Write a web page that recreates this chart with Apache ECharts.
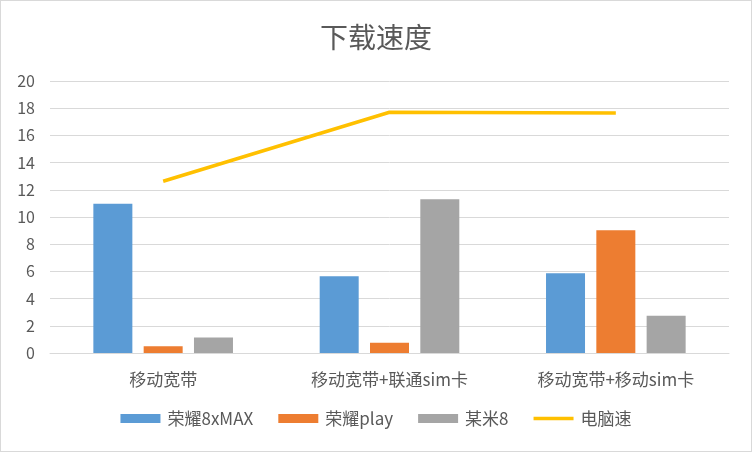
<!DOCTYPE html>
<html>
<head>
<meta charset="utf-8">
<script src="https://cdn.jsdelivr.net/npm/echarts@6/dist/echarts.min.js"></script>
<style>
    html, body { margin: 0; padding: 0; background: #fff; }
    #chart { width: 752px; height: 452px; box-sizing: border-box; border: 1px solid #d9d9d9; }
</style>
</head>
<body>
<div id="chart"></div>
<script>
const categories = ['移动宽带', '移动宽带+联通sim卡', '移动宽带+移动sim卡']
const honor8xMax = [10.97, 5.65, 5.87]
const honorPlay = [0.49, 0.75, 9.02]
const mi8 = [1.14, 11.3, 2.73]
const lineValues = [12.63, 17.7, 17.65]
const seriesNames = ['荣耀8xMAX', '荣耀play', '某米8', '电脑速']
const yTicks = [0, 20, 2]

const font = 'Noto Sans CJK SC'
const textColor = '#595959'

const chart = echarts.init(document.getElementById('chart'))

const barSeries = (name, data, color) => ({
    name: name,
    type: 'bar',
    data: data,
    barWidth: 39,
    barGap: '29%',
    itemStyle: { color: color },
    emphasis: { disabled: true }
})

const option = {
    animation: false,
    textStyle: { fontFamily: font },
    title: {
        text: '下载速度',
        left: 'center',
        top: 17,
        textStyle: { fontFamily: font, fontSize: 28, fontWeight: 'normal', color: textColor }
    },
    grid: { left: 49, right: 22, top: 80, bottom: 98 },
    legend: {
        bottom: 19,
        left: 'center',
        itemWidth: 40,
        itemHeight: 9,
        itemGap: 25,
        textStyle: { fontFamily: font, fontSize: 17, color: textColor, padding: [0, 0, 0, 2] },
        data: [
            { name: seriesNames[0], icon: 'rect' },
            { name: seriesNames[1], icon: 'rect' },
            { name: seriesNames[2], icon: 'rect' },
            // plain line icon, no dot
            { name: seriesNames[3], icon: 'path://M0,0 L40,0 L40,3.5 L0,3.5 Z' }
        ]
    },
    xAxis: {
        type: 'category',
        data: categories,
        axisLine: { lineStyle: { color: '#d9d9d9', width: 1 } },
        axisTick: { show: false },
        axisLabel: { fontFamily: font, fontSize: 17, color: textColor, margin: 18 }
    },
    yAxis: {
        type: 'value',
        min: yTicks[0],
        max: yTicks[1],
        interval: yTicks[2],
        axisLine: { show: false },
        axisTick: { show: false },
        splitLine: { lineStyle: { color: '#d9d9d9', width: 1 } },
        axisLabel: { fontFamily: font, fontSize: 16, color: textColor, margin: 15 }
    },
    series: [
        barSeries(seriesNames[0], honor8xMax, '#5b9bd5'),
        barSeries(seriesNames[1], honorPlay, '#ed7d31'),
        barSeries(seriesNames[2], mi8, '#a5a5a5'),
        {
            name: seriesNames[3],
            type: 'line',
            data: lineValues,
            symbol: 'none',
            lineStyle: { color: '#ffc000', width: 3.5 },
            itemStyle: { color: '#ffc000' },
            emphasis: { disabled: true }
        }
    ]
}

chart.setOption(option)
</script>
</body>
</html>
